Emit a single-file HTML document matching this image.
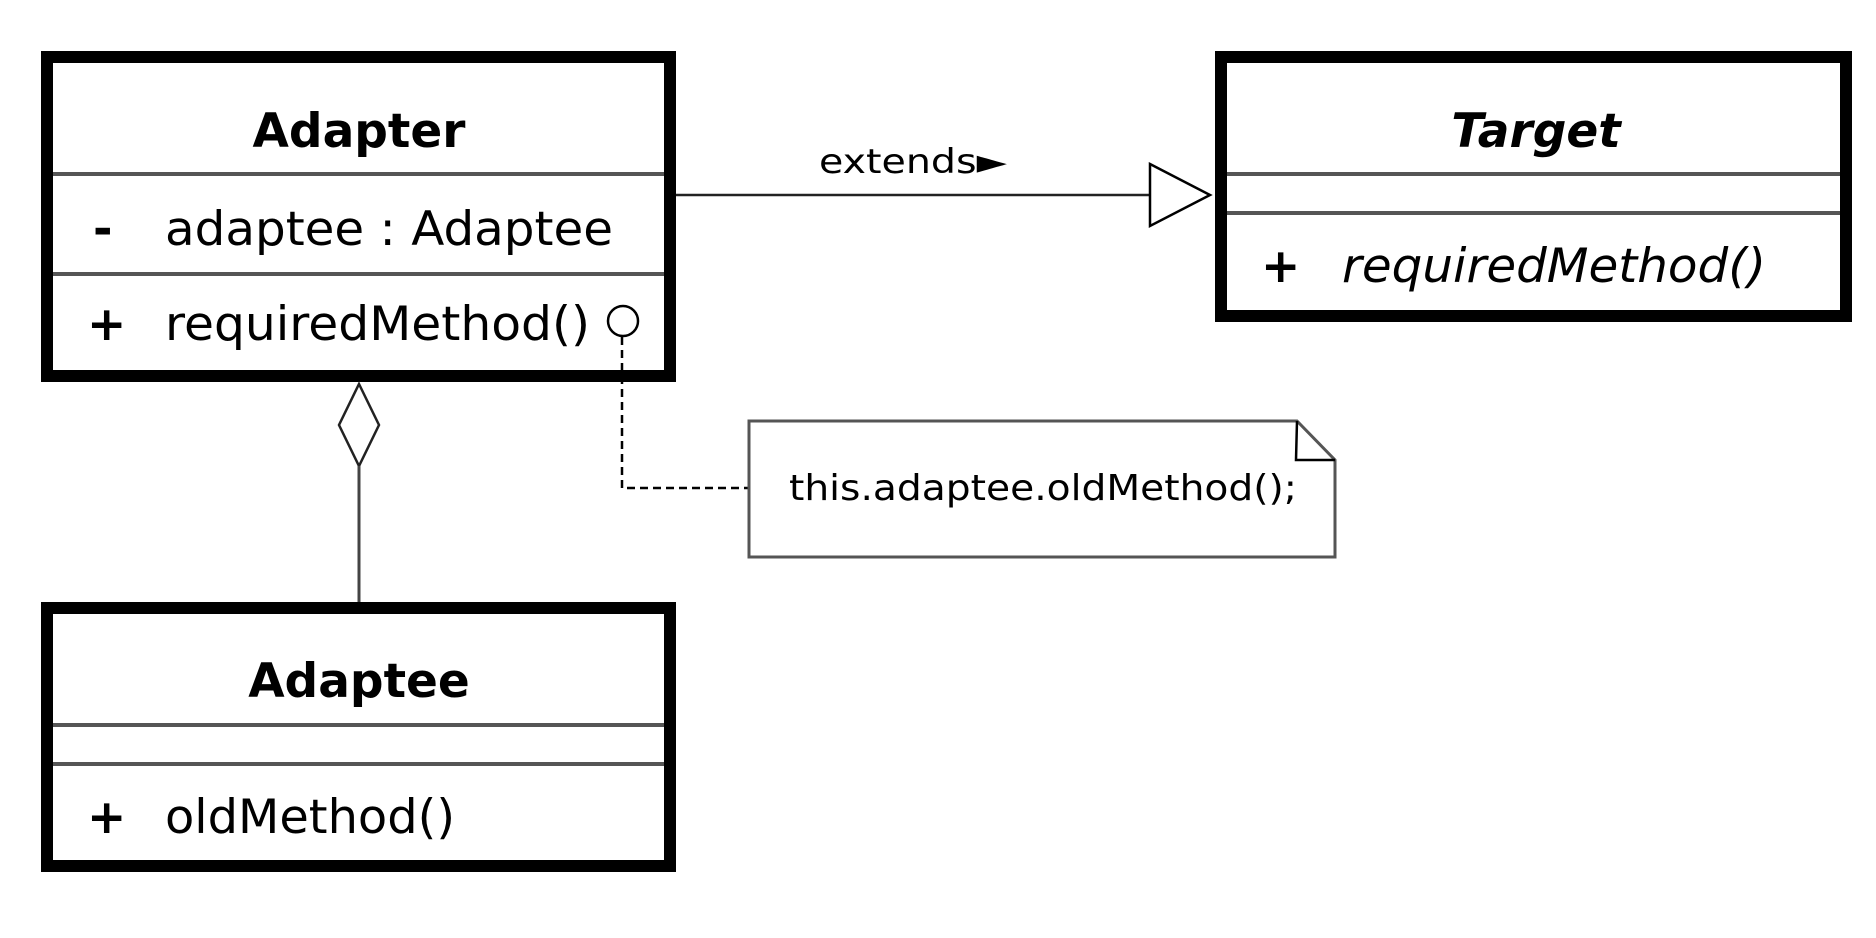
<!DOCTYPE html>
<html><head><style>
html,body{margin:0;padding:0;background:#fff;}
svg{display:block;}
text{font-family:"DejaVu Sans","Liberation Sans",sans-serif;fill:#000;}
</style></head><body>
<svg width="1876" height="938" viewBox="0 0 1876 938" xmlns="http://www.w3.org/2000/svg">
<!-- Adapter -->
<rect x="47" y="57" width="623" height="319" fill="#fff" stroke="#000" stroke-width="12"/>
<line x1="53" y1="174" x2="664" y2="174" stroke="#555" stroke-width="4"/>
<line x1="53" y1="274" x2="664" y2="274" stroke="#555" stroke-width="4"/>
<text x="359" y="147" font-size="47" font-weight="bold" text-anchor="middle">Adapter</text>
<text x="93" y="245" font-size="47" font-weight="bold">-</text>
<text x="165" y="245" font-size="47" textLength="448" lengthAdjust="spacingAndGlyphs">adaptee : Adaptee</text>
<text x="87" y="340" font-size="47" font-weight="bold">+</text>
<text x="165" y="340" font-size="47" textLength="425" lengthAdjust="spacingAndGlyphs">requiredMethod()</text>
<circle cx="623" cy="321" r="15" fill="#fff" stroke="#000" stroke-width="2.5"/>
<!-- Target -->
<rect x="1221" y="57" width="625" height="259" fill="#fff" stroke="#000" stroke-width="12"/>
<line x1="1227" y1="174" x2="1840" y2="174" stroke="#555" stroke-width="4"/>
<line x1="1227" y1="213" x2="1840" y2="213" stroke="#555" stroke-width="4"/>
<text x="1536" y="147" font-size="47" font-weight="bold" font-style="italic" text-anchor="middle">Target</text>
<text x="1261" y="282" font-size="47" font-weight="bold">+</text>
<text x="1342" y="282" font-size="47" font-style="italic" textLength="424" lengthAdjust="spacingAndGlyphs">requiredMethod()</text>
<!-- Adaptee -->
<rect x="47" y="608" width="623" height="258" fill="#fff" stroke="#000" stroke-width="12"/>
<line x1="53" y1="725" x2="664" y2="725" stroke="#555" stroke-width="4"/>
<line x1="53" y1="764" x2="664" y2="764" stroke="#555" stroke-width="4"/>
<text x="359" y="697" font-size="47" font-weight="bold" text-anchor="middle">Adaptee</text>
<text x="87" y="833" font-size="47" font-weight="bold">+</text>
<text x="165" y="833" font-size="47" textLength="290" lengthAdjust="spacingAndGlyphs">oldMethod()</text>
<!-- extends -->
<line x1="676" y1="195" x2="1150" y2="195" stroke="#222" stroke-width="2.5"/>
<polygon points="1150,164 1210,195 1150,226" fill="#fff" stroke="#000" stroke-width="2.5"/>
<text x="819" y="173" font-size="34" textLength="188" lengthAdjust="spacingAndGlyphs">extends►</text>
<!-- aggregation -->
<polygon points="359,384 379,425 359,466 339,425" fill="#fff" stroke="#222" stroke-width="2.5"/>
<line x1="359" y1="466" x2="359" y2="602" stroke="#444" stroke-width="3"/>
<!-- note link -->
<polyline points="622,337 622,488 749,488" fill="none" stroke="#000" stroke-width="2.5" stroke-dasharray="8,5"/>
<!-- note -->
<path d="M749,421 L1297,421 L1335,460 L1335,557 L749,557 Z" fill="#fff" stroke="#555" stroke-width="3"/>
<path d="M1297,421 L1296,460 L1335,460" fill="none" stroke="#000" stroke-width="2.5"/>
<text x="789" y="500" font-size="36" textLength="508" lengthAdjust="spacingAndGlyphs">this.adaptee.oldMethod();</text>
</svg>
</body></html>
